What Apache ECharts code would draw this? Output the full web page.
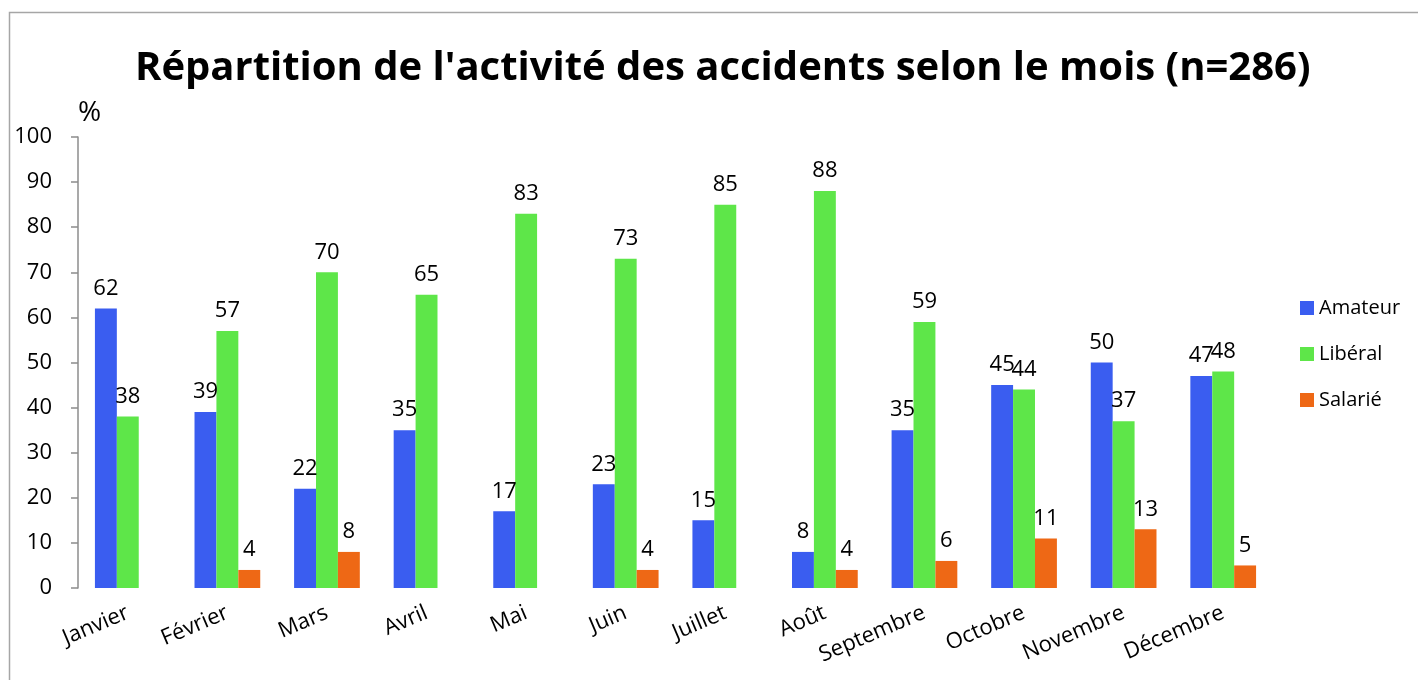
<!DOCTYPE html>
<html>
<head>
<meta charset="utf-8">
<script src="https://cdn.jsdelivr.net/npm/echarts@6/dist/echarts.min.js"></script>
<style>
  html, body { margin: 0; padding: 0; background: #fff; }
  #chart { width: 1418px; height: 680px; }
</style>
</head>
<body>
<div id="chart"></div>
<script>
const months = ['Janvier', 'Février', 'Mars', 'Avril', 'Mai', 'Juin', 'Juillet', 'Août', 'Septembre', 'Octobre', 'Novembre', 'Décembre']
const amateur = [62, 39, 22, 35, 17, 23, 15, 8, 35, 45, 50, 47]
const liberal = [38, 57, 70, 65, 83, 73, 85, 88, 59, 44, 37, 48]
const salarie = ['-', 4, 8, '-', '-', 4, '-', 4, 6, 11, 13, 5]

const font = 'Open Sans'
const chart = echarts.init(document.getElementById('chart'))

function bar(name, data, color) {
  return {
    name: name,
    type: 'bar',
    data: data,
    barGap: '0%',
    barCategoryGap: '34%',
    itemStyle: { color: color },
    label: {
      show: true,
      position: 'top',
      distance: 9,
      color: '#000',
      fontFamily: font,
      fontSize: 22
    }
  }
}

chart.setOption({
  animation: false,
  textStyle: { fontFamily: font },
  title: {
    text: "Répartition de l'activité des accidents selon le mois (n=286)",
    left: 130,
    top: 44,
    textStyle: { fontFamily: font, fontSize: 40, fontWeight: 'bold', color: '#000' }
  },
  graphic: [{
    type: 'rect',
    shape: { x: 9.5, y: 12.5, width: 1430, height: 720 },
    style: { fill: 'none', stroke: '#a6a6a6', lineWidth: 1.5 },
    silent: true
  }],
  legend: {
    orient: 'vertical',
    left: 1295,
    top: 293,
    itemWidth: 14,
    itemHeight: 14,
    itemGap: 26,
    icon: 'rect',
    textStyle: { fontFamily: font, fontSize: 20, color: '#000' },
    data: ['Amateur', 'Libéral', 'Salarié']
  },
  grid: { left: 78, right: 145, top: 137, bottom: 92 },
  xAxis: {
    type: 'category',
    data: months,
    axisLine: { show: false },
    axisTick: { show: false },
    axisLabel: {
      rotate: 23,
      margin: 24,
      color: '#000',
      fontFamily: font,
      fontSize: 22
    }
  },
  yAxis: {
    type: 'value',
    name: '%',
    nameLocation: 'end',
    nameGap: 10,
    nameTextStyle: { fontFamily: font, fontSize: 28, color: '#000', align: 'left' },
    min: 0,
    max: 100,
    interval: 10,
    splitLine: { show: false },
    axisLine: { show: true, lineStyle: { color: '#8c8c8c', width: 1.5 } },
    axisTick: { show: true, length: 7, lineStyle: { color: '#8c8c8c', width: 1.5 } },
    axisLabel: { color: '#000', fontFamily: font, fontSize: 22, margin: 26 }
  },
  series: [
    bar('Amateur', amateur, '#3a5df0'),
    bar('Libéral', liberal, '#5ee649'),
    bar('Salarié', salarie, '#ee6815')
  ]
})
</script>
</body>
</html>
